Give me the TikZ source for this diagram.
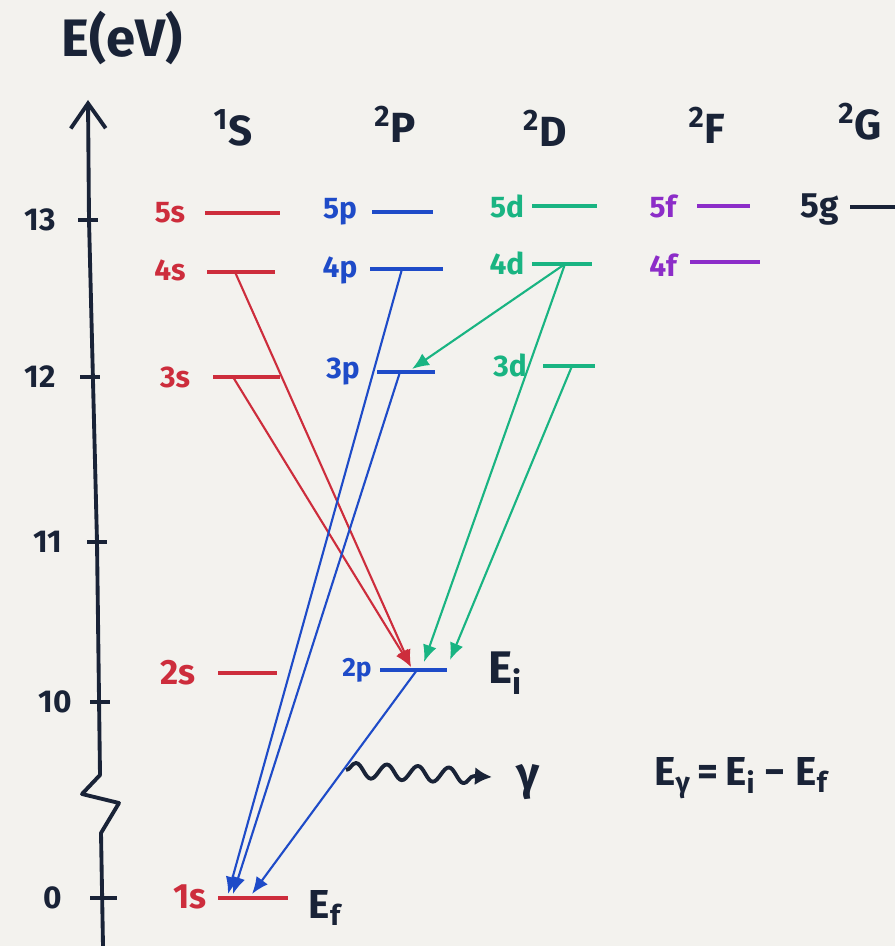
\documentclass[tikz,border=0pt]{standalone}
\usepackage{fontspec}
\setmainfont{Fira Sans}
\usepackage{tikz}
\usetikzlibrary{arrows.meta, decorations.pathmorphing, positioning}

\definecolor{inkred}{RGB}{205,45,60}
\definecolor{inkblue}{RGB}{30,75,200}
\definecolor{inkgreen}{RGB}{25,180,130}
\definecolor{inkpurple}{RGB}{140,45,200}
\definecolor{ink}{RGB}{25,35,55}
\definecolor{paper}{RGB}{243,242,238}

\tikzstyle{lvl} = [line width=2.3pt]
\tikzstyle{trans} = [line width=1.2pt, -{Latex[length=3.4mm, width=2.8mm]}]
\tikzstyle{lab} = [inner sep=0pt, font=\fontsize{17}{19}\selectfont\bfseries]
\tikzstyle{head} = [inner sep=0pt, text=ink, font=\fontsize{24}{26}\selectfont\bfseries]
\tikzstyle{tick} = [inner sep=0pt, text=ink, font=\fontsize{18}{20}\selectfont\bfseries]
\tikzstyle{big} = [inner sep=0pt, text=ink, font=\fontsize{23}{26}\selectfont\bfseries]

\begin{document}
\begin{tikzpicture}[x=0.02cm, y=-0.02cm]
    \fill [paper] (0,0) rectangle (895,946);
    \useasboundingbox (0,0) rectangle (895,946);

    % Axis
    \node [big, font=\fontsize{30}{34}\selectfont\bfseries] (eaxis) at (122,38) {E(eV)};
    \draw [ink, line width=2.2pt, line join=round, -{Straight Barb[length=5mm, width=7mm, line width=2.2pt]}]
        (103,946) -- (101,833) -- (119,803) -- (82,794) -- (100,775) -- (97,542) -- (89,220) -- (88,100);
    \draw [ink, line width=2.2pt] (78,220) -- (98,220);
    \draw [ink, line width=2.2pt] (80,377) -- (100,377);
    \draw [ink, line width=2.2pt] (87,542) -- (107,542);
    \draw [ink, line width=2.2pt] (90,702) -- (110,702);
    \draw [ink, line width=2.2pt] (90,898) -- (117,898);
    \node [tick] (t13) at (40,220) {13};
    \node [tick] (t12) at (40,377) {12};
    \node [tick] (t11) at (48,542) {11};
    \node [tick] (t10) at (55,702) {10};
    \node [tick] (t0) at (53,898) {0};

    % Term headers
    \node [head] (hS) at (233,128) {\textsuperscript{1}S};
    \node [head] (hP) at (395,124) {\textsuperscript{2}P};
    \node [head] (hD) at (545,128) {\textsuperscript{2}D};
    \node [head] (hF) at (707,125) {\textsuperscript{2}F};
    \node [head] (hG) at (860,122) {\textsuperscript{2}G};

    % S levels
    \node [lab, text=inkred] (s5) at (170,213) {5s};
    \node [lab, text=inkred] (s4) at (170,270) {4s};
    \node [lab, text=inkred] (s3) at (175,377) {3s};
    \node [lab, text=inkred, font=\fontsize{20}{22}\selectfont\bfseries] (s2) at (178,673) {2s};
    \node [lab, text=inkred, font=\fontsize{20}{22}\selectfont\bfseries] (s1) at (190,897) {1s};
    \draw [lvl, inkred] (205,213) -- (280,213);
    \draw [lvl, inkred] (207,272) -- (275,272);
    \draw [lvl, inkred] (213,377) -- (280,377);
    \draw [lvl, inkred] (218,673) -- (277,673);
    \draw [lvl, inkred] (218,898) -- (288,898);

    % P levels
    \node [lab, text=inkblue] (p5) at (340,212) {5p};
    \node [lab, text=inkblue] (p4) at (340,270) {4p};
    \node [lab, text=inkblue] (p3) at (343,372) {3p};
    \node [lab, text=inkblue, font=\fontsize{15}{17}\selectfont\bfseries] (p2) at (357,670) {2p};
    \draw [lvl, inkblue] (372,212) -- (433,212);
    \draw [lvl, inkblue] (370,269) -- (443,269);
    \draw [lvl, inkblue] (377,372) -- (435,372);
    \draw [lvl, inkblue] (380,670) -- (447,670);

    % D levels
    \node [lab, text=inkgreen] (d5) at (507,206) {5d};
    \node [lab, text=inkgreen] (d4) at (507,263) {4d};
    \node [lab, text=inkgreen] (d3) at (510,365) {3d};
    \draw [lvl, inkgreen] (532,206) -- (597,206);
    \draw [lvl, inkgreen] (532,264) -- (592,264);
    \draw [lvl, inkgreen] (543,366) -- (595,366);

    % F and G levels
    \node [lab, text=inkpurple] (f5) at (663,206) {5f};
    \node [lab, text=inkpurple] (f4) at (663,265) {4f};
    \node [lab, text=ink, font=\fontsize{20}{22}\selectfont\bfseries] (g5) at (820,210) {5g};
    \draw [lvl, inkpurple] (697,206) -- (750,206);
    \draw [lvl, inkpurple] (690,262) -- (760,262);
    \draw [lvl, ink] (850,207) -- (895,207);

    % Ends of the transitions
    \coordinate (s4o) at (235,272);
    \coordinate (s3o) at (233,377);
    \coordinate (p4o) at (402,269);
    \coordinate (p3o) at (400,372);
    \coordinate (p2o) at (417,670);
    \coordinate (d4o) at (565,264);
    \coordinate (d3o) at (572,366);
    \coordinate (p2red) at (411,667);
    \coordinate (p2grA) at (424,662);
    \coordinate (p2grB) at (450,660);
    \coordinate (p3gr) at (412,369);
    \coordinate (s1a) at (228,894);
    \coordinate (s1b) at (233,894);
    \coordinate (s1c) at (252,894);

    % Transitions
    \draw [trans, inkred] (s4o) -- (p2red);
    \draw [trans, inkred] (s3o) -- (p2red);
    \draw [trans, inkblue] (p4o) -- (s1a);
    \draw [trans, inkblue] (p3o) -- (s1b);
    \draw [trans, inkblue] (p2o) -- (s1c);
    \draw [trans, inkgreen] (d4o) -- (p3gr);
    \draw [trans, inkgreen] (d4o) -- (p2grA);
    \draw [trans, inkgreen] (d3o) -- (p2grB);

    % Photon
    \node [big, font=\fontsize{26}{28}\selectfont\bfseries] (Ei) at (505,673) {E\textsubscript{i}};
    \node [big] (Ef) at (325,908) {E\textsubscript{f}};
    \node [big, font=\fontsize{26}{28}\selectfont\bfseries] (gam) at (528,782) {γ};
    \node [big] (law) at (741,778) {E\textsubscript{γ}\,=\,E\textsubscript{i} − E\textsubscript{f}};
    \coordinate (emit) at (346,770);
    \coordinate (photon) at (492,777);
    \draw [ink, line width=2.2pt, line join=round, decorate,
        decoration={snake, amplitude=0.15cm, segment length=0.62cm, post length=0.3cm},
        -{Latex[length=3.4mm, width=3.6mm]}] (emit) -- (photon);
\end{tikzpicture}
\end{document}
